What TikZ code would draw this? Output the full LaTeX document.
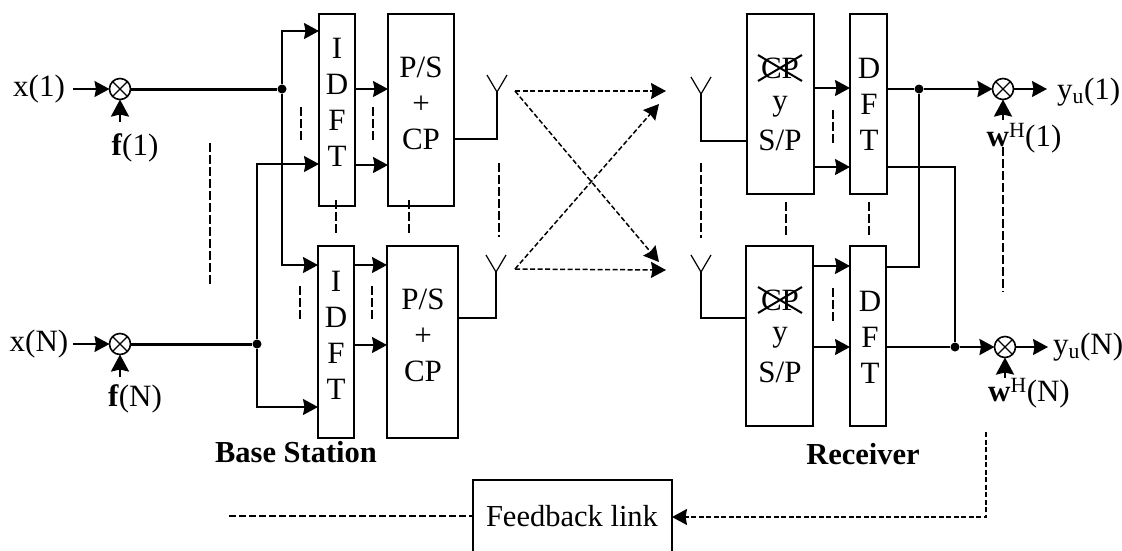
\documentclass[tikz,border=0pt]{standalone}
\usepackage{fontspec}
\setmainfont{Liberation Serif}
\usetikzlibrary{arrows.meta}
\tikzset{
  x=1pt,y=-1pt,
  blk/.style={draw,line width=2.6pt,inner sep=0pt,outer sep=0pt},
  txt/.style={font=\fontsize{31}{36}\selectfont,align=center,inner sep=0pt},
  sig/.style={line width=1.6pt},
  thick sig/.style={line width=3pt},
  arr/.style={line width=1.6pt,-{Stealth[length=15pt,width=16pt,inset=1.5pt]}},
  bigarr/.style={line width=2.6pt,-{Stealth[length=17pt,width=18pt,inset=2pt]}},
  gap/.style={line width=1.5pt,dash pattern=on 9pt off 3pt},
  darr/.style={line width=1.5pt,dash pattern=on 5pt off 2.5pt,-{Stealth[length=15pt,width=16pt,inset=1.5pt]}},
  mix/.style={draw,circle,line width=1.6pt,minimum size=21pt,inner sep=0pt,outer sep=0pt,path picture={
     \draw[line width=1.1pt] (path picture bounding box.north west)--(path picture bounding box.south east)
     (path picture bounding box.north east)--(path picture bounding box.south west);}},
  jn/.style={circle,fill=black,minimum size=9pt,inner sep=0pt},
}
\newcommand{\antenna}[3]{% name, x, tip y
  \coordinate (#1) at (#2,#3);
  \draw[line width=1.2pt] (#2-10,#3-17) -- (#1) -- (#2+10,#3-17);}
\begin{document}
\begin{tikzpicture}
\useasboundingbox (0,0) rectangle (1122,550);
% boxes
\node[blk,minimum width=36pt,minimum height=192pt] (idft1) at (337,110) {};
\node[blk,minimum width=66pt,minimum height=192pt] (ps1) at (421,110) {};
\node[blk,minimum width=36pt,minimum height=192pt] (idft2) at (336,342) {};
\node[blk,minimum width=71pt,minimum height=192pt] (ps2) at (422.5,342) {};
\node[blk,minimum width=67pt,minimum height=180pt] (rm1) at (780.5,104) {};
\node[blk,minimum width=37pt,minimum height=180pt] (dft1) at (868.5,104) {};
\node[blk,minimum width=67pt,minimum height=180pt] (rm2) at (779.5,336) {};
\node[blk,minimum width=36pt,minimum height=180pt] (dft2) at (868,336) {};
% box texts
\node[txt] (t1) at (337,102) {I\\D\\F\\T};
\node[txt] (t2) at (336,335) {I\\D\\F\\T};
\node[txt] (t3) at (421,103) {P/S\\+\\CP};
\node[txt] (t4) at (423,335) {P/S\\+\\CP};
\node[txt] (cp1) at (780,68) {CP};
\node[txt] (y1) at (780,107) {y};
\node[txt] (sp1) at (780,140) {S/P};
\node[txt] (cp2) at (780,300) {CP};
\node[txt] (y2) at (780,338) {y};
\node[txt] (sp2) at (780,372) {S/P};
\draw[line width=2pt] ([shift={(-22,-13)}]cp1.center)--([shift={(22,13)}]cp1.center) ([shift={(-22,13)}]cp1.center)--([shift={(22,-13)}]cp1.center);
\draw[line width=2pt] ([shift={(-22,-13)}]cp2.center)--([shift={(22,13)}]cp2.center) ([shift={(-22,13)}]cp2.center)--([shift={(22,-13)}]cp2.center);
\node[txt] (t5) at (869,104) {D\\F\\T};
\node[txt] (t6) at (870,337) {D\\F\\T};
% inputs
\node[txt] (x1) at (39,89) {x(1)};
\node[txt] (xn) at (39,344) {x(N)};
\node[mix] (m1) at (120,89) {};
\node[mix] (mn) at (120,344) {};
\node[txt] (f1) at (135,148) {\textbf{f}(1)};
\node[txt] (fn) at (135,399) {\textbf{f}(N)};
\coordinate (x1e) at (73,89);
\coordinate (xne) at (73,344);
\coordinate (f1e) at (120,122);
\coordinate (fne) at (120,377);
\draw[arr] (x1e)--(m1);
\draw[arr] (xne)--(mn);
\draw[bigarr] (f1e)--(m1);
\draw[bigarr] (fne)--(mn);
\node[jn] (j1) at (282,89) {};
\node[jn] (j2) at (257,344) {};
\draw[thick sig] (m1)--(j1);
\draw[thick sig] (mn)--(j2);
\coordinate (a1) at (282,31);
\coordinate (a2) at (282,265);
\coordinate (a3) at (257,164);
\coordinate (a4) at (257,407);
\draw[arr] (j1)--(a1)--(idft1.west |- a1);
\draw[arr] (j1)--(a2)--(idft2.west |- a2);
\draw[arr] (j2)--(a3)--(idft1.west |- a3);
\draw[arr] (j2)--(a4)--(idft2.west |- a4);
% IDFT to P/S
\coordinate (b1) at (355,89);
\coordinate (b2) at (355,165);
\coordinate (b3) at (354,265);
\coordinate (b4) at (354,345);
\draw[arr] (b1)--(ps1.west |- b1);
\draw[arr] (b2)--(ps1.west |- b2);
\draw[arr] (b3)--(ps2.west |- b3);
\draw[arr] (b4)--(ps2.west |- b4);
% antennas tx
\antenna{tx1}{497}{92}
\antenna{tx2}{496}{272}
\coordinate (c1) at (454,139);
\coordinate (c2) at (458,318);
\draw[sig] (c1)-|(tx1);
\draw[sig] (c2)-|(tx2);
% channel
\coordinate (s1) at (515,91);
\coordinate (s2) at (515,269);
\coordinate (e1) at (666,91);
\coordinate (e2) at (666,270);
\coordinate (e3) at (659,104);
\coordinate (e4) at (659,262);
\draw[darr] (s1)--(e1);
\draw[darr] (s1)--(e4);
\draw[darr] (s2)--(e3);
\draw[darr] (s2)--(e2);
% antennas rx
\antenna{rx1}{701}{94}
\antenna{rx2}{701}{272}
\coordinate (d1) at (747,141);
\coordinate (d2) at (746,318);
\draw[sig] (d1)-|(rx1);
\draw[sig] (d2)-|(rx2);
% to DFT
\coordinate (g1) at (814,88);
\coordinate (g2) at (814,167);
\coordinate (g3) at (813,266);
\coordinate (g4) at (813,347);
\draw[arr] (g1)--(dft1.west |- g1);
\draw[arr] (g2)--(dft1.west |- g2);
\draw[arr] (g3)--(dft2.west |- g3);
\draw[arr] (g4)--(dft2.west |- g4);
% outputs
\node[mix] (o1) at (1003,89) {};
\node[mix] (on) at (1005,347) {};
\node[jn] (j3) at (919,89) {};
\node[jn] (j4) at (955,347) {};
\coordinate (h1) at (887,89);
\coordinate (h2) at (887,167);
\coordinate (h3) at (886,267);
\coordinate (h4) at (886,347);
\draw[sig] (h1)--(j3);
\draw[arr,line width=2.4pt] (j3)--(o1);
\draw[sig] (h3)-|(j3);
\draw[sig] (h2)-|(j4);
\draw[sig] (h4)--(j4);
\draw[arr,line width=2.4pt] (j4)--(on);
\node[txt,anchor=west] (y1o) at (1057,92) {y\textsubscript{u}(1)};
\node[txt,anchor=west] (yno) at (1053,347) {y\textsubscript{u}(N)};
\coordinate (o1e) at (1047,89);
\coordinate (one) at (1048,347);
\draw[arr] (o1)--(o1e);
\draw[arr] (on)--(one);
\coordinate (w1e) at (1003,120);
\coordinate (wne) at (1005,378);
\draw[bigarr] (w1e)--(o1);
\draw[bigarr] (wne)--(on);
\node[txt] (w1) at (1024,138) {\textbf{w}\textsuperscript{H}(1)};
\node[txt] (wn) at (1029,393) {\textbf{w}\textsuperscript{H}(N)};
% labels
\node[txt,font=\fontsize{30.5}{36}\selectfont\bfseries] (bs) at (296,452) {Base Station};
\node[txt,font=\fontsize{30.5}{36}\selectfont\bfseries] (rc) at (863,454) {Receiver};
% feedback
\node[blk,minimum width=199pt,minimum height=90pt] (fb) at (572.5,525) {};
\node[txt,font=\fontsize{30.5}{36}\selectfont] (fbt) at (572,516) {Feedback link};
\coordinate (l1) at (229,516);
\coordinate (l2) at (473,516);
\coordinate (r1) at (986,432);
\coordinate (r2) at (986,517);
\draw[gap,dash pattern=on 7pt off 3pt] (l1)--(l2);
\draw[darr] (r1)--(r2)--(fb.east |- r2);
% omission marks
\coordinate (p1a) at (210,143); \coordinate (p1b) at (210,285);
\coordinate (p2a) at (301,107); \coordinate (p2b) at (301,142);
\coordinate (p3a) at (373,107); \coordinate (p3b) at (373,142);
\coordinate (p4a) at (499,163); \coordinate (p4b) at (499,237);
\coordinate (p5a) at (336,200); \coordinate (p5b) at (336,235);
\coordinate (p6a) at (409,200); \coordinate (p6b) at (409,235);
\coordinate (p7a) at (300,286); \coordinate (p7b) at (300,321);
\coordinate (p8a) at (372,286); \coordinate (p8b) at (372,321);
\coordinate (p9a) at (701,163); \coordinate (p9b) at (701,238);
\coordinate (p10a) at (786,202); \coordinate (p10b) at (786,236);
\coordinate (p11a) at (869,202); \coordinate (p11b) at (869,236);
\coordinate (p12a) at (833,110); \coordinate (p12b) at (833,145);
\coordinate (p13a) at (833,288); \coordinate (p13b) at (833,323);
\coordinate (p14a) at (1003,147); \coordinate (p14b) at (1003,292);
\foreach \i in {1,...,14}{\draw[gap] (p\i a)--(p\i b);}
\end{tikzpicture}
\end{document}
